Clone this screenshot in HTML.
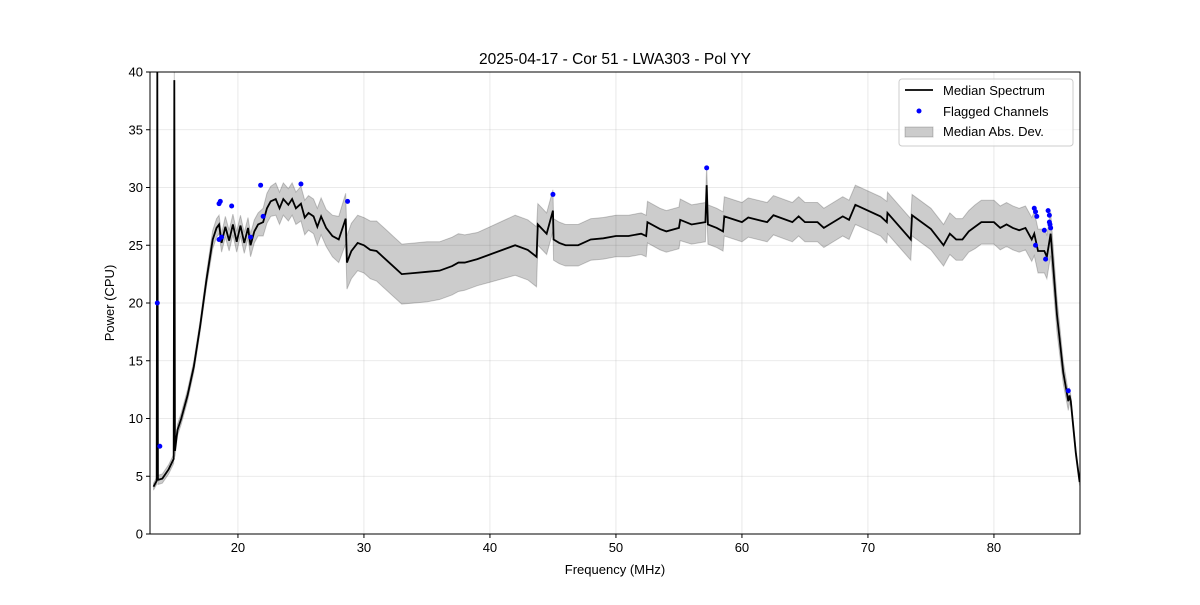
<!DOCTYPE html>
<html><head><meta charset="utf-8"><style>
body{margin:0;background:#fff;font-family:"Liberation Sans",sans-serif}
svg text{font-family:"Liberation Sans",sans-serif;fill:#000}
</style></head><body>
<svg id="c" width="1200" height="600" xmlns="http://www.w3.org/2000/svg"></svg>
<script>
const freqs=[13.3,13.5,13.55,13.6,13.65,13.7,14.0,14.5,14.9,14.95,
15.0,15.2,15.5,16,16.5,17,17.5,18,18.3,18.5,
18.7,19,19.3,19.6,19.9,20.2,20.5,20.8,21,21.3,
21.6,22,22.3,22.6,23,23.3,23.6,24,24.3,24.6,
25,25.3,25.6,26,26.3,26.6,27,27.5,28,28.55,
28.65,29,29.5,30,30.5,31,31.5,32,32.5,33,
34,35,36,37,37.5,38,39,40,41,42,
43,43.7,43.8,44.5,45,45.05,45.5,46,47,48,
49,50,51,52,52.4,52.5,53.5,54,55,55.1,
56,57.1,57.2,57.3,58,58.5,58.6,60,60.5,62,
62.5,64,64.5,65,66,66.5,68,68.5,69,71,
71.5,71.55,73.4,73.5,75,76,76.5,77,77.5,78,
78.5,79,80,80.5,81,81.5,82,82.5,83,83.2,
83.5,84,84.2,84.5,85,85.5,85.9,86,86.1,86.5,
86.8];
const median=[4.1,4.5,4.6,40,4.7,4.7,4.8,5.6,6.5,39.3,
7.2,9,10,12,14.5,18,22,25.5,26.5,26.8,
25.2,26.6,25.4,26.8,25.3,26.7,25.2,26.5,25,26.2,
26.8,27,28.2,28.8,29,28.2,29,28.5,29,28.2,
28.6,27.4,27.8,27.5,26.6,27.5,26.5,25.8,25.5,27.3,
23.5,24.5,25.2,25,24.6,24.5,24,23.5,23,22.5,
22.6,22.7,22.8,23.2,23.5,23.5,23.8,24.2,24.6,25,
24.6,24,26.8,26,28,25.5,25.2,25,25,25.5,
25.6,25.8,25.8,26,25.8,27,26.4,26.2,26.5,27.2,
26.8,27,30.2,26.8,26.5,26.2,27.5,27,27.4,27,
27.6,27,27.5,27,27,26.5,27.5,27.2,28.5,27.5,
27,27.8,25.5,27.6,26.4,25,26,25.5,25.5,26.2,
26.6,27,27,26.5,26.8,26.5,26.3,26.5,25.5,26,
24.5,24.5,24,26,19,14,11.5,12,11.5,7,
4.5];
const mad=[0.3,0.3,0.3,2,0.4,0.4,0.4,0.4,0.4,2,
0.5,0.5,0.5,0.5,0.5,0.5,0.6,0.8,0.8,0.8,
0.8,0.9,0.9,0.9,0.9,0.9,0.9,0.9,1,1,
1,1.2,1.3,1.3,1.4,1.4,1.4,1.4,1.4,1.4,
1.5,1.5,1.5,1.5,1.6,1.6,1.6,1.8,2,2.2,
2.3,2.4,2.4,2.4,2.5,2.6,2.6,2.6,2.6,2.6,
2.6,2.6,2.5,2.5,2.5,2.4,2.3,2.4,2.5,2.6,
2.6,2.6,1.8,1.8,1.8,1.8,1.8,1.8,1.8,1.8,
1.8,1.8,1.8,1.8,1.8,1.8,1.8,1.8,1.8,1.8,
1.7,1.7,1.7,1.7,1.7,1.7,1.7,1.7,1.7,1.7,
1.7,1.7,1.7,1.7,1.7,1.7,1.7,1.7,1.7,1.7,
1.8,1.8,1.8,1.8,1.8,1.8,1.8,1.8,1.8,1.8,
1.9,1.9,1.9,1.9,1.9,1.9,1.9,1.9,1.9,1.9,
1.9,1.9,1.9,1.9,1.5,1,0.8,0.6,0.5,0.4,
0.3];
const flagF=[13.6,13.8,18.5,18.6,18.5,18.7,19.5,21,21.8,22,25,28.7,45,57.2,83.2,83.3,83.4,83.3,84,84.1,84.3,84.4,84.4,84.5,84.45,85.9];
const flagV=[20,7.6,28.6,28.8,25.5,25.7,28.4,25.7,30.2,27.5,30.3,28.8,29.4,31.7,28.2,27.9,27.5,25,26.3,23.8,28,27.6,27,26.5,26.8,12.4];
const xTicks=[20,30,40,50,60,70,80];
const yTicks=[0,5,10,15,20,25,30,35,40];
const L=150,R=1080,T=72,B=534,X0=13.02,X1=86.83,Y0=0,Y1=40;
const sx=f=>L+(f-X0)/(X1-X0)*(R-L), sy=v=>B-(v-Y0)/(Y1-Y0)*(B-T);
const svg=document.getElementById('c');const NS='http://www.w3.org/2000/svg';
function mk(t,a,p){const e=document.createElementNS(NS,t);for(const k in a)e.setAttribute(k,a[k]);(p||svg).appendChild(e);return e;}
const cp=mk('clipPath',{id:'clip'});mk('rect',{x:L,y:T,width:R-L,height:B-T},cp);
const grid=mk('g',{});
xTicks.forEach(t=>mk('line',{x1:sx(t),x2:sx(t),y1:T,y2:B,stroke:'#b0b0b0','stroke-opacity':0.35,'stroke-width':0.8},grid));
yTicks.forEach(t=>mk('line',{x1:L,x2:R,y1:sy(t),y2:sy(t),stroke:'#b0b0b0','stroke-opacity':0.35,'stroke-width':0.8},grid));
const pg=mk('g',{'clip-path':'url(#clip)'});
const n=Math.min(freqs.length,median.length,mad.length);
const idx=[...Array(n).keys()];
let up=idx.map(i=>sx(freqs[i])+','+sy(median[i]+mad[i]));
let lo=idx.map(i=>sx(freqs[i])+','+sy(median[i]-mad[i])).reverse();
const band=mk('polygon',{points:up.concat(lo).join(' '),fill:'#000','fill-opacity':0.2,stroke:'#000','stroke-opacity':0.2,'stroke-width':1},pg);

const line=mk('polyline',{points:idx.map(i=>sx(freqs[i])+','+sy(median[i])).join(' '),fill:'none',stroke:'#000','stroke-width':1.8},pg);

flagF.forEach((f,i)=>{const c=mk('circle',{cx:sx(f),cy:sy(flagV[i]),r:2.5,fill:'#0000ff'},pg);
});
mk('rect',{x:L,y:T,width:R-L,height:B-T,fill:'none',stroke:'#000','stroke-width':1});
xTicks.forEach(t=>{mk('line',{x1:sx(t),x2:sx(t),y1:B,y2:B+4,stroke:'#000'});const e=mk('text',{x:sx(t),y:B+18,'font-size':13,'text-anchor':'middle'});e.textContent=t;
});
yTicks.forEach(t=>{mk('line',{x1:L-4,x2:L,y1:sy(t),y2:sy(t),stroke:'#000'});const e=mk('text',{x:L-7,y:sy(t)+4.5,'font-size':13,'text-anchor':'end'});e.textContent=t;
});
</script>
<svg width="1200" height="600" style="position:absolute;left:0;top:0">
<text x="615" y="64" font-size="15.5" text-anchor="middle">2025-04-17 - Cor 51 - LWA303 - Pol YY</text>
<text x="615" y="574" font-size="13" text-anchor="middle">Frequency (MHz)</text>
<text x="114" y="303" font-size="13" text-anchor="middle" transform="rotate(-90 114 303)">Power (CPU)</text>
<g>
<rect x="899" y="79" width="174" height="67" rx="3" fill="#fff" fill-opacity="0.8" stroke="#ccc"/>
<line x1="905" y1="90" x2="933" y2="90" stroke="#000" stroke-width="1.8"/>
<text x="943" y="95" font-size="13">Median Spectrum</text>
<circle cx="919" cy="111" r="2.5" fill="#0000ff"/>
<text x="943" y="116" font-size="13">Flagged Channels</text>
<rect x="905" y="127" width="28" height="10" fill="#000" fill-opacity="0.2" stroke="#000" stroke-opacity="0.2"/>
<text x="943" y="136" font-size="13">Median Abs. Dev.</text>
</g>
</svg>
</body></html>
